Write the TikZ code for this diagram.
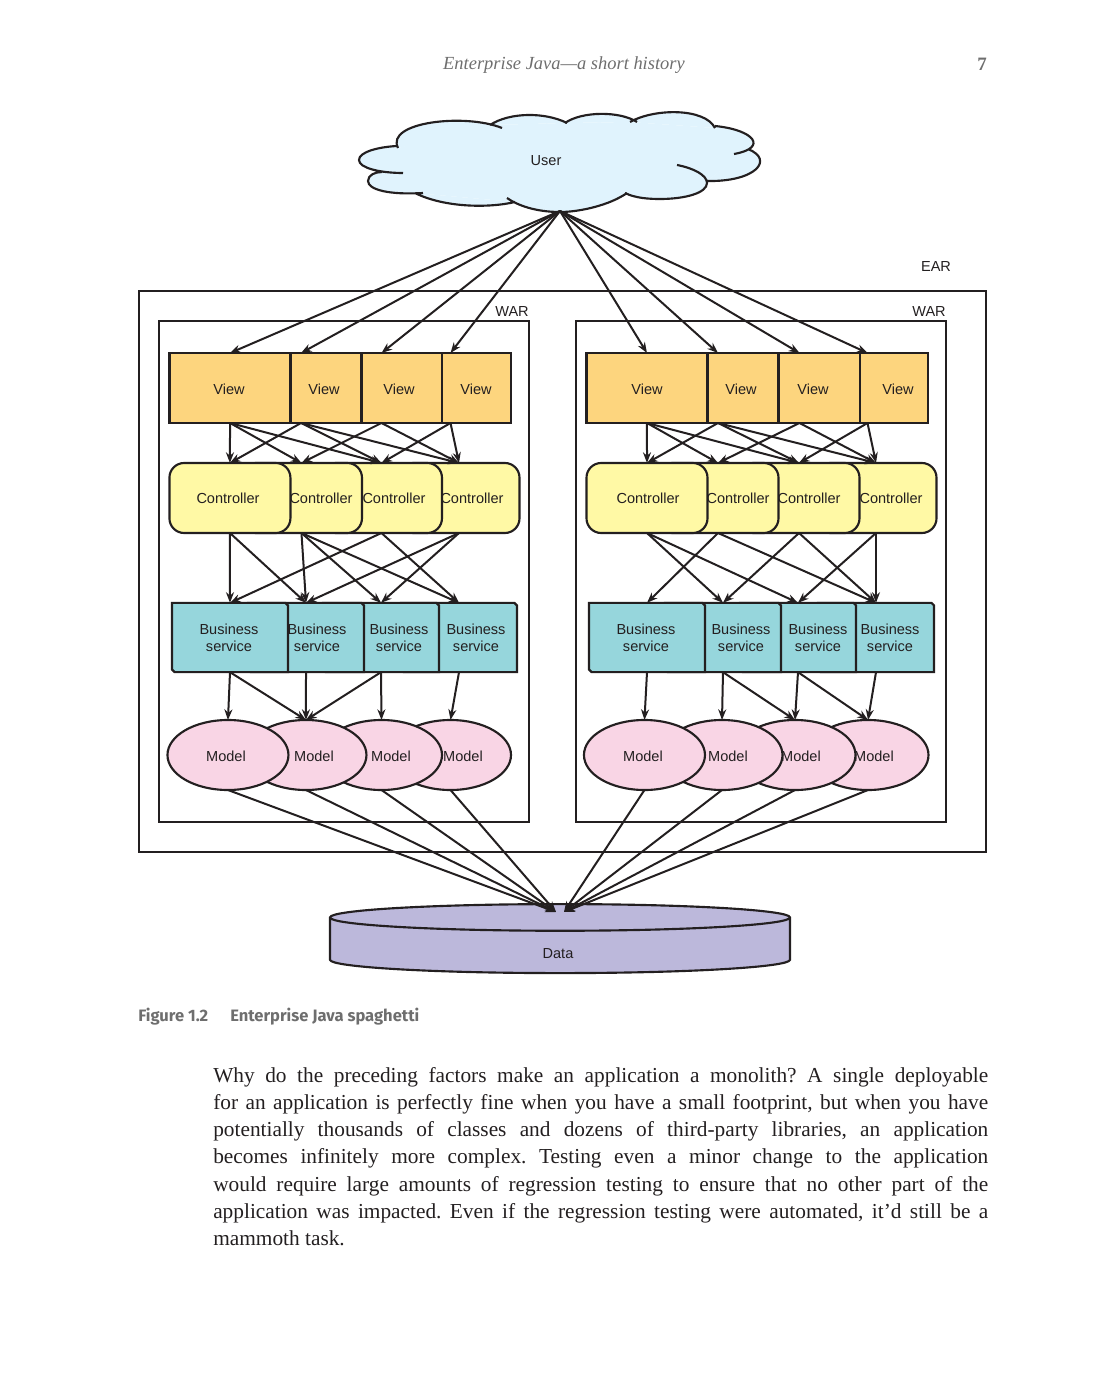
\documentclass[tikz,border=0pt]{standalone}
\usepackage{fontspec}
\setmainfont{Liberation Serif}
\setsansfont{Liberation Sans}
\newfontfamily\capfont{Fira Sans}
\usetikzlibrary{positioning,shapes.geometric,shapes.misc,arrows.meta}

\definecolor{inkline}{HTML}{231F20}
\definecolor{viewfill}{HTML}{FDD57E}
\definecolor{ctrlfill}{HTML}{FFF9A5}
\definecolor{bizfill}{HTML}{96D6DC}
\definecolor{modelfill}{HTML}{F9D5E5}
\definecolor{datafill}{HTML}{BCB8DB}
\definecolor{cloudfill}{HTML}{E0F3FD}
\definecolor{pagegray}{HTML}{6E6E6E}

\tikzset{
	shapeline/.style={draw=inkline, line width=1.6pt, inner sep=1pt, outer sep=0},
	viewbox/.style={shapeline, rectangle, fill=viewfill, minimum width=90.75pt, minimum height=52.5pt},
	ctrlbox/.style={shapeline, rectangle, rounded corners=11pt, fill=ctrlfill, minimum width=90.75pt, minimum height=52.5pt},
	bizbox/.style={shapeline, chamfered rectangle, chamfered rectangle corners={north east,south west}, chamfered rectangle xsep=8pt, chamfered rectangle ysep=8pt, fill=bizfill, minimum width=87pt, minimum height=52pt},
	modelbox/.style={shapeline, ellipse, fill=modelfill, minimum width=90.75pt, minimum height=52.5pt},
	framebox/.style={draw=inkline, line width=1.5pt},
	boxtext/.style={font=\sffamily\fontsize{10.9}{12.4}\selectfont, text=inkline, align=center, inner sep=0},
	conn/.style={draw=inkline, line width=1.5pt, -{Stealth[length=8pt,width=6pt]}},
}

\newcommand{\cloudlobes}{
	(398,148) .. controls (385,122) and (465,113) .. (502,128)
	(490,125) .. controls (510,112) and (545,112) .. (567,123)
	(565,123) .. controls (582,111) and (620,111) .. (637,122)
	(630,122) .. controls (655,108) and (705,108) .. (715,128)
	(715,126) .. controls (755,130) and (768,148) .. (734,154)
	(748,149) .. controls (775,160) and (755,182) .. (707,181)
	(677,165) .. controls (693,168) and (707,175) .. (707,183) .. controls (707,193) and (685,199) .. (660,199) .. controls (648,199) and (635,198) .. (625,193)
	(627,193) .. controls (610,205) and (580,212) .. (560,212) .. controls (535,212) and (517,205) .. (507,198)
	(515,202) .. controls (490,208) and (445,208) .. (415,193)
	(423,193) .. controls (390,195) and (368,190) .. (368,181) .. controls (368,175) and (375,172) .. (382,172)
	(403,173) .. controls (380,173) and (359,168) .. (359,160) .. controls (359,152) and (378,147) .. (397,146)
}

\begin{document}
\begin{tikzpicture}[x=0.75pt, y=-0.75pt]
	\useasboundingbox (0,0) rectangle (1106,1387);

	% running head
	\node [font=\itshape\fontsize{13.85}{16}\selectfont, text=pagegray] (runhead) at (564,65) {Enterprise Java---a short history};
	\node [font=\bfseries\fontsize{14.2}{16}\selectfont, text=pagegray] (pageno) at (982,64) {7};

	% cloud
	\fill[cloudfill] (398,148) -- (490,125) -- (565,123) -- (630,122) -- (715,128) -- (745,145) -- (748,150) -- (707,181) -- (625,195) -- (515,202) -- (415,193) -- (382,172) -- (365,160) -- cycle;
	\fill[cloudfill] \cloudlobes;
	\draw[draw=inkline, line width=1.6pt] \cloudlobes;
	\node [boxtext] (user) at (546,161) {User};
	\coordinate (usertip) at (560,211);

	% outer boxes
	\draw[framebox] (139,291) rectangle (986,852);
	\draw[framebox] (159,321) rectangle (529,822);
	\draw[framebox] (576,321) rectangle (946,822);
	\node [boxtext] (ear) at (936,267) {EAR};
	\node [boxtext] (warleft) at (512,312) {WAR};
	\node [boxtext] (warright) at (929,312) {WAR};

	% left war
	\node [viewbox] (lv4) at (450.5,388) {};
	\node [viewbox, left=-39pt of lv4] (lv3) {};
	\node [viewbox, left=-30.4pt of lv3] (lv2) {};
	\node [viewbox, left=-37.5pt of lv2] (lv1) {};
	\node [ctrlbox] (lc4) at (459,498) {};
	\node [ctrlbox, left=-32.6pt of lc4] (lc3) {};
	\node [ctrlbox, left=-30.75pt of lc3] (lc2) {};
	\node [ctrlbox, left=-37.1pt of lc2] (lc1) {};
	\node [bizbox] (lb4) at (459,637.5) {};
	\node [bizbox, left=-28.5pt of lb4] (lb3) {};
	\node [bizbox, left=-30.75pt of lb3] (lb2) {};
	\node [bizbox, left=-30pt of lb2] (lb1) {};
	\node [modelbox] (lm4) at (450.5,755) {};
	\node [modelbox, left=-39pt of lm4] (lm3) {};
	\node [modelbox, left=-34.1pt of lm3] (lm2) {};
	\node [modelbox, left=-32.25pt of lm2] (lm1) {};

	% right war
	\node [viewbox] (rv4) at (867.5,388) {};
	\node [viewbox, left=-39.75pt of rv4] (rv3) {};
	\node [viewbox, left=-29.6pt of rv3] (rv2) {};
	\node [viewbox, left=-37.5pt of rv2] (rv1) {};
	\node [ctrlbox] (rc4) at (876,498) {};
	\node [ctrlbox, left=-33pt of rc4] (rc3) {};
	\node [ctrlbox, left=-30pt of rc3] (rc2) {};
	\node [ctrlbox, left=-37.5pt of rc2] (rc1) {};
	\node [bizbox] (rb4) at (876,637.5) {};
	\node [bizbox, left=-28.5pt of rb4] (rb3) {};
	\node [bizbox, left=-30.75pt of rb3] (rb2) {};
	\node [bizbox, left=-30pt of rb2] (rb1) {};
	\node [modelbox] (rm4) at (868,755) {};
	\node [modelbox, left=-36pt of rm4] (rm3) {};
	\node [modelbox, left=-36pt of rm3] (rm2) {};
	\node [modelbox, left=-32.6pt of rm2] (rm1) {};

	% labels sit beside the box centres
	\node [boxtext] (lv1t) at (229,389) {View};
	\node [boxtext] (lv2t) at (324,389) {View};
	\node [boxtext] (lv3t) at (399,389) {View};
	\node [boxtext] (lv4t) at (476,389) {View};
	\node [boxtext] (rv1t) at (647,389) {View};
	\node [boxtext] (rv2t) at (741,389) {View};
	\node [boxtext] (rv3t) at (813,389) {View};
	\node [boxtext] (rv4t) at (898,389) {View};
	\node [boxtext] (lc1t) at (228,498) {Controller};
	\node [boxtext] (lc2t) at (321,498) {Controller};
	\node [boxtext] (lc3t) at (394,498) {Controller};
	\node [boxtext] (lc4t) at (472,498) {Controller};
	\node [boxtext] (rc1t) at (648,498) {Controller};
	\node [boxtext] (rc2t) at (738,498) {Controller};
	\node [boxtext] (rc3t) at (809,498) {Controller};
	\node [boxtext] (rc4t) at (891,498) {Controller};
	\node [boxtext] (lb1t) at (229,638) {Business\\service};
	\node [boxtext] (lb2t) at (317,638) {Business\\service};
	\node [boxtext] (lb3t) at (399,638) {Business\\service};
	\node [boxtext] (lb4t) at (476,638) {Business\\service};
	\node [boxtext] (rb1t) at (646,638) {Business\\service};
	\node [boxtext] (rb2t) at (741,638) {Business\\service};
	\node [boxtext] (rb3t) at (818,638) {Business\\service};
	\node [boxtext] (rb4t) at (890,638) {Business\\service};
	\node [boxtext] (lm1t) at (226,756) {Model};
	\node [boxtext] (lm2t) at (314,756) {Model};
	\node [boxtext] (lm3t) at (391,756) {Model};
	\node [boxtext] (lm4t) at (463,756) {Model};
	\node [boxtext] (rm1t) at (643,756) {Model};
	\node [boxtext] (rm2t) at (728,756) {Model};
	\node [boxtext] (rm3t) at (801,756) {Model};
	\node [boxtext] (rm4t) at (874,756) {Model};

	% data store
	\node [shapeline, cylinder, shape border rotate=90, aspect=10, fill=datafill, minimum width=345pt, minimum height=51.75pt] (data) at (560,946.5) {};
	\node [boxtext] (datat) at (558,954) {Data};
	\coordinate (dataleft) at (556,912);
	\coordinate (dataright) at (564,912);

	% user to views
	\draw[conn] (usertip) -- (lv1.north);
	\draw[conn] (usertip) -- (lv2.north);
	\draw[conn] (usertip) -- (lv3.north);
	\draw[conn] (usertip) -- (lv4.north);
	\draw[conn] (usertip) -- (rv1.north);
	\draw[conn] (usertip) -- (rv2.north);
	\draw[conn] (usertip) -- (rv3.north);
	\draw[conn] (usertip) -- (rv4.north);

	% left views to controllers
	\draw[conn] (lv1.south) -- (lc1.north);
	\draw[conn] (lv1.south) -- (lc2.north);
	\draw[conn] (lv1.south) -- (lc3.north);
	\draw[conn] (lv2.south) -- (lc1.north);
	\draw[conn] (lv2.south) -- (lc3.north);
	\draw[conn] (lv2.south) -- (lc4.north);
	\draw[conn] (lv3.south) -- (lc2.north);
	\draw[conn] (lv3.south) -- (lc4.north);
	\draw[conn] (lv4.south) -- (lc3.north);
	\draw[conn] (lv4.south) -- (lc4.north);

	% left controllers to services
	\draw[conn] (lc1.south) -- (lb1.north);
	\draw[conn] (lc1.south) -- (lb2.north);
	\draw[conn] (lc2.south) -- (lb2.north);
	\draw[conn] (lc2.south) -- (lb3.north);
	\draw[conn] (lc2.south) -- (lb4.north);
	\draw[conn] (lc3.south) -- (lb1.north);
	\draw[conn] (lc3.south) -- (lb4.north);
	\draw[conn] (lc4.south) -- (lb2.north);
	\draw[conn] (lc4.south) -- (lb3.north);

	% left services to models
	\draw[conn] (lb1.south) -- (lm1.north);
	\draw[conn] (lb1.south) -- (lm2.north);
	\draw[conn] (lb2.south) -- (lm2.north);
	\draw[conn] (lb3.south) -- (lm2.north);
	\draw[conn] (lb3.south) -- (lm3.north);
	\draw[conn] (lb4.south) -- (lm4.north);

	% right views to controllers
	\draw[conn] (rv1.south) -- (rc1.north);
	\draw[conn] (rv1.south) -- (rc2.north);
	\draw[conn] (rv1.south) -- (rc3.north);
	\draw[conn] (rv2.south) -- (rc1.north);
	\draw[conn] (rv2.south) -- (rc3.north);
	\draw[conn] (rv2.south) -- (rc4.north);
	\draw[conn] (rv3.south) -- (rc2.north);
	\draw[conn] (rv3.south) -- (rc4.north);
	\draw[conn] (rv4.south) -- (rc3.north);
	\draw[conn] (rv4.south) -- (rc4.north);

	% right controllers to services
	\draw[conn] (rc1.south) -- (rb2.north);
	\draw[conn] (rc1.south) -- (rb3.north);
	\draw[conn] (rc2.south) -- (rb1.north);
	\draw[conn] (rc2.south) -- (rb4.north);
	\draw[conn] (rc3.south) -- (rb2.north);
	\draw[conn] (rc3.south) -- (rb4.north);
	\draw[conn] (rc4.south) -- (rb3.north);
	\draw[conn] (rc4.south) -- (rb4.north);

	% right services to models
	\draw[conn] (rb1.south) -- (rm1.north);
	\draw[conn] (rb2.south) -- (rm2.north);
	\draw[conn] (rb2.south) -- (rm3.north);
	\draw[conn] (rb3.south) -- (rm3.north);
	\draw[conn] (rb3.south) -- (rm4.north);
	\draw[conn] (rb4.south) -- (rm4.north);

	% models to data
	\draw[conn] (lm1.south) -- (dataleft);
	\draw[conn] (lm2.south) -- (dataleft);
	\draw[conn] (lm3.south) -- (dataleft);
	\draw[conn] (lm4.south) -- (dataleft);
	\draw[conn] (rm1.south) -- (dataright);
	\draw[conn] (rm2.south) -- (dataright);
	\draw[conn] (rm3.south) -- (dataright);
	\draw[conn] (rm4.south) -- (dataright);

	% caption and paragraph
	\node [font=\capfont\bfseries\fontsize{12.4}{14}\selectfont, text=pagegray, anchor=west, inner sep=0] (capnum) at (138,1016.5) {Figure 1.2};
	\node [font=\capfont\bfseries\fontsize{12.4}{14}\selectfont, text=pagegray, anchor=west, inner sep=0] (captext) at (230,1016.5) {Enterprise Java spaghetti};
	\node [anchor=north west, inner sep=0, text width=581.25pt, align=justify, text=inkline, font=\fontsize{16}{20.4}\selectfont\frenchspacing] (para) at (213,1067) {
		Why do the preceding factors make an application a monolith? A single deployable\linebreak
		for an application is perfectly fine when you have a small footprint, but when you have\linebreak
		potentially thousands of classes and dozens of third-party libraries, an application\linebreak
		becomes infinitely more complex. Testing even a minor change to the application\linebreak
		would require large amounts of regression testing to ensure that no other part of the\linebreak
		application was impacted. Even if the regression testing were automated, it'd still be a\linebreak
		mammoth task.\par};
\end{tikzpicture}
\end{document}
